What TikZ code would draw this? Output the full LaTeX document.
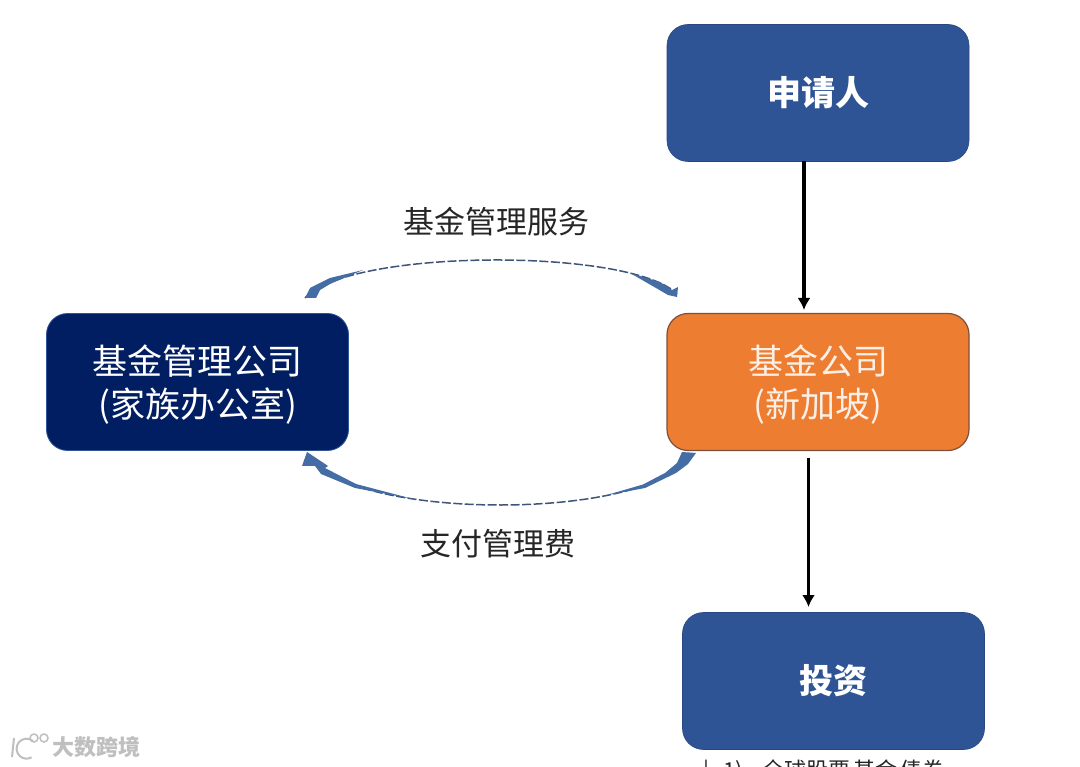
\documentclass[tikz,border=0pt]{standalone}
\usepackage{fontspec}
\setmainfont{Noto Sans CJK SC}
\usetikzlibrary{arrows.meta}
\definecolor{bluebox}{RGB}{47,84,150}
\definecolor{navybox}{RGB}{2,30,98}
\definecolor{orangebox}{RGB}{237,125,49}
\definecolor{orangeedge}{RGB}{125,80,60}
\definecolor{arcblue}{RGB}{68,108,165}
\definecolor{arcdark}{RGB}{62,85,120}
\definecolor{inkgrey}{RGB}{38,38,38}
\newcommand{\lowerline}[1]{\raisebox{-3pt}[\height][\depth]{#1}}
\tikzset{
  x=1pt,y=-1pt,
  boxbase/.style={rounded corners=21pt,minimum width=302pt,minimum height=137pt,inner sep=0pt,align=center,text=white,font=\fontsize{35}{43}\selectfont},
  bluestyle/.style={boxbase,fill=bluebox,draw=bluebox!85!black,line width=.6pt,font=\fontsize{34}{44}\selectfont\bfseries},
  navystyle/.style={boxbase,fill=navybox,draw=bluebox,line width=.8pt},
  orangestyle/.style={boxbase,fill=orangebox,draw=orangeedge,line width=1.2pt,text=white!88!orangebox},
  flowline/.style={line width=3.8pt,black,-{Latex[length=12pt,width=13pt]}},
  arcline/.style={arcdark,line width=1.5pt,dash pattern=on 9pt off 2.5pt},
  arctip/.style={fill=arcblue,draw=none},
  caption/.style={text=inkgrey,font=\fontsize{31}{36}\selectfont,inner sep=0pt},
}
\begin{document}
\begin{tikzpicture}
\useasboundingbox (0,0) rectangle (1080,767);
\clip (0,0) rectangle (1080,767);
\fill[white] (0,0) rectangle (1080,767);
% boxes
\node[bluestyle] (apply) at (818,93) {申请人};
\node[orangestyle] (fund) at (818,382) {\lowerline{基金公司}\\\lowerline{(新加坡)}};
\node[navystyle] (manager) at (197.5,382) {\lowerline{基金管理公司}\\\lowerline{(家族办公室)}};
\node[bluestyle] (invest) at (833.5,681) {投资};
% straight connectors
\coordinate (applyout) at (804,161);
\coordinate (fundin) at (804,310);
\coordinate (fundout) at (808.5,458);
\coordinate (investin) at (808.5,607);
\draw[flowline] (applyout) -- (fundin);
\draw[flowline] (fundout) -- (investin);
% curved connectors
\coordinate (upL) at (305,298);
\coordinate (upR) at (677,294);
\coordinate (loL) at (310,455);
\coordinate (loR) at (690,453);
\draw[arcline] (upL) .. controls (350,248) and (632,248) .. (upR);
\draw[arcline] (loR) .. controls (660,522) and (345,522) .. (loL);
\fill[arctip] (305,298) -- (310,288) -- (330,278) -- (363,270) -- (330,284) -- (320,290) -- (316,298) -- cycle;
\fill[arctip] (678,287) -- (677,297) -- (668,295) -- (656,288) -- (630,273) -- (660,282) -- (672,290) -- cycle;
\fill[arctip] (307,452) -- (328,466) -- (325,468) -- (356,484) -- (413,499) -- (355,488) -- (321,474) -- (315,466) -- (302,466) -- cycle;
\fill[arctip] (696,453) -- (682,452) -- (677,463) -- (665,473) -- (643,484.5) -- (605,495.5) -- (645,488) -- (676,473) -- (688,464) -- cycle;
% labels
\node[caption] (servicelabel) at (496,222) {基金管理服务};
\node[caption] (feelabel) at (498,544) {支付管理费};
% cut-off text and watermark
\node[anchor=west,text=inkgrey,font=\fontsize{22}{24}\selectfont,inner sep=0pt] (note) at (703,772) {|\hspace{14pt}1)\hspace{20pt}全球股票\hspace{3pt}基金\hspace{3pt}债券};
\node[anchor=west,text=black!25,font=\fontsize{22}{24}\selectfont\bfseries,inner sep=0pt] (wm) at (52,747) {大数跨境};
\draw[black!25,line width=2pt] (14,738) -- (12,757) (33,741) arc (50:300:10pt);
\draw[black!25,line width=1.5pt] (34,738) circle (4pt) (44,738) circle (4pt);
\end{tikzpicture}
\end{document}
